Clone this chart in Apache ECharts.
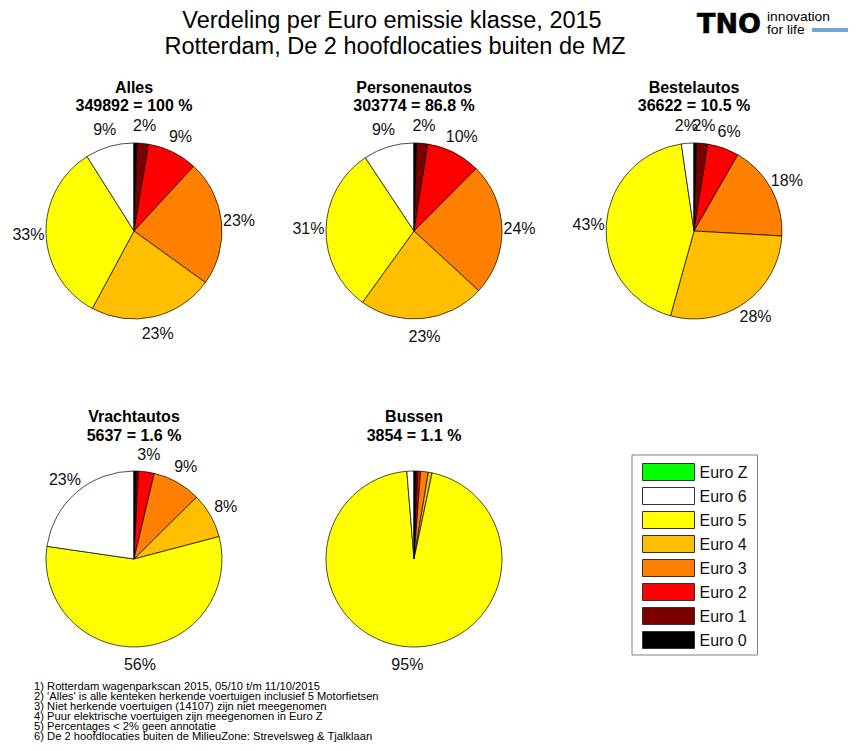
<!DOCTYPE html>
<html>
<head>
<meta charset="utf-8">
<script src="https://cdn.jsdelivr.net/npm/echarts@6/dist/echarts.min.js"></script>
<style>
html,body{margin:0;padding:0;background:#fff;}
#chart{width:856px;height:751px;}
</style>
</head>
<body>
<div id="chart"></div>
<script>
// ---- data ----
const classes = ['Euro 0', 'Euro 1', 'Euro 2', 'Euro 3', 'Euro 4', 'Euro 5', 'Euro 6', 'Euro Z'];
const legendOrder = ['Euro Z', 'Euro 6', 'Euro 5', 'Euro 4', 'Euro 3', 'Euro 2', 'Euro 1', 'Euro 0'];
const groupNames = ['Alles', 'Personenautos', 'Bestelautos', 'Vrachtautos', 'Bussen'];
const groupTotals = [349892, 303774, 36622, 5637, 3854];
const groupShares = ['100', '86.8', '10.5', '1.6', '1.1'];
// percentage per Euro class (order: Euro 0 .. Euro 6, Euro Z)
const alles        = [0.55, 2.1, 9.2, 23.1, 22.9, 33.2, 8.95, 0];
const personen     = [0.5, 2.0, 9.96, 24.4, 23.1, 30.7, 9.34, 0];
const bestel       = [0.5, 2.0, 5.8, 17.6, 28.4, 43.4, 2.3, 0];
const vracht       = [0.4, 0.4, 2.9, 8.9, 8.3, 56.4, 22.7, 0];
const bussen       = [0.4, 0.3, 0.5, 1.4, 0.7, 95.4, 1.3, 0];
const footnotes = [
  "1) Rotterdam wagenparkscan 2015, 05/10 t/m 11/10/2015",
  "2) 'Alles' is alle kenteken herkende voertuigen inclusief 5 Motorfietsen",
  "3) Niet herkende voertuigen (14107) zijn niet meegenomen",
  "4) Puur elektrische voertuigen zijn meegenomen in Euro Z",
  "5) Percentages < 2% geen annotatie",
  "6) De 2 hoofdlocaties buiten de MilieuZone: Strevelsweg & Tjalklaan"
];

// ---- styling / layout ----
const colors = {
  'Euro 0': '#000000', 'Euro 1': '#7a0000', 'Euro 2': '#ff0000', 'Euro 3': '#ff8000',
  'Euro 4': '#ffbf00', 'Euro 5': '#ffff00', 'Euro 6': '#ffffff', 'Euro Z': '#00ff00'
};
const FONT = "'Liberation Sans', Arial, sans-serif";
const seriesValues = [alles, personen, bestel, vracht, bussen];
const centers = [[134, 231], [414, 231], [694, 231], [134, 559], [414, 559]];
const R = 88;

const chart = echarts.init(document.getElementById('chart'), null, {renderer: 'svg'});

const series = seriesValues.map((vals, si) => ({
  type: 'pie',
  name: groupNames[si],
  center: centers[si],
  radius: R,
  startAngle: 90,
  clockwise: true,
  avoidLabelOverlap: false,
  silent: true,
  animation: false,
  itemStyle: {borderColor: '#000', borderWidth: 0.7},
  label: {
    show: true,
    position: 'outside',
    fontFamily: FONT,
    fontSize: 16,
    color: '#111',
    formatter: p => (p.value >= 2 ? Math.round(p.percent) + '%' : '')
  },
  labelLine: {show: false},
  labelLayout: function (params) {
    const v = seriesValues[params.seriesIndex];
    const total = v.reduce((a, b) => a + b, 0);
    let cum = 0;
    for (let i = 0; i < params.dataIndex; i++) cum += v[i];
    const mid = (cum + v[params.dataIndex] / 2) / total * Math.PI * 2;
    const c = centers[params.seriesIndex];
    return {
      x: c[0] + 1.2 * R * Math.sin(mid),
      y: c[1] - 1.2 * R * Math.cos(mid),
      align: 'center',
      verticalAlign: 'middle'
    };
  },
  data: classes.map((name, i) => ({name: name, value: vals[i], itemStyle: {color: colors[name]}}))
}));

function txt(x, y, text, font, align, extra, sx) {
  const el = {type: 'text', x: x, y: y, style: Object.assign({
    text: text, font: font, fill: '#000', align: align, verticalAlign: 'middle',
    textAlign: align, textVerticalAlign: 'middle'
  }, extra || {})};
  if (sx) el.scaleX = sx;
  return el;
}

const graphics = [];
graphics.push(txt(392, 20, 'Verdeling per Euro emissie klasse, 2015', '23.5px ' + FONT, 'center'));
graphics.push(txt(395, 46, 'Rotterdam, De 2 hoofdlocaties buiten de MZ', '23.5px ' + FONT, 'center'));
// pie titles
const titleY = [[87, 105], [87, 105], [87, 105], [416, 435], [416, 435]];
groupNames.forEach((n, i) => {
  graphics.push(txt(centers[i][0], titleY[i][0], n, 'bold 16px ' + FONT, 'center'));
  graphics.push(txt(centers[i][0], titleY[i][1], groupTotals[i] + ' = ' + groupShares[i] + ' %', 'bold 16px ' + FONT, 'center'));
});
// footnotes
footnotes.forEach((t, i) => {
  graphics.push(txt(34, 686 + i * 10.1, t, '10px ' + FONT, 'left', null, 1.12));
});
// TNO logo
graphics.push(txt(697, 23, 'TNO', 'bold 27px "DejaVu Sans", sans-serif', 'left', {stroke: '#000', lineWidth: 0.6}));
graphics.push(txt(767, 17, 'innovation', '12px ' + FONT, 'left', null, 1.15));
graphics.push(txt(767, 29.5, 'for life', '12px ' + FONT, 'left', null, 1.15));
graphics.push({type: 'rect', shape: {x: 812, y: 28, width: 36, height: 4}, style: {fill: '#6fa8d6'}});

chart.setOption({
  backgroundColor: '#fff',
  animation: false,
  legend: {
    orient: 'vertical',
    left: 632,
    top: 455,
    data: legendOrder,
    itemWidth: 52,
    itemHeight: 17,
    itemGap: 6,
    icon: 'rect',
    padding: [8, 10, 6, 10],
    borderColor: '#808080',
    borderWidth: 1,
    selectedMode: false,
    textStyle: {fontFamily: FONT, fontSize: 16, color: '#111'},
    itemStyle: {borderColor: '#333', borderWidth: 1}
  },
  graphic: graphics,
  series: series
});
</script>
</body>
</html>
